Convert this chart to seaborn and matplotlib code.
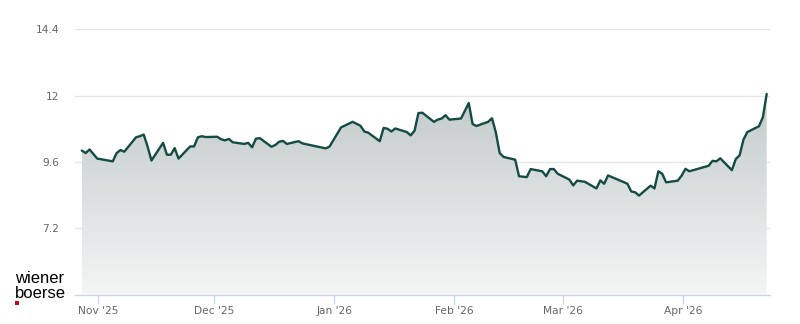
import numpy as np
import pandas as pd
import matplotlib
matplotlib.use("Agg")
import matplotlib.pyplot as plt
import matplotlib.dates as mdates
from matplotlib.colors import LinearSegmentedColormap
from matplotlib.patches import Rectangle
import seaborn as sns

# ---- data ----
dates = [
    "2025-10-27", "2025-10-28", "2025-10-29", "2025-10-31", "2025-11-04", "2025-11-05",
    "2025-11-06", "2025-11-07", "2025-11-10", "2025-11-11", "2025-11-12", "2025-11-13",
    "2025-11-14", "2025-11-17", "2025-11-18", "2025-11-19", "2025-11-20", "2025-11-21",
    "2025-11-24", "2025-11-25", "2025-11-26", "2025-11-27", "2025-11-28", "2025-12-01",
    "2025-12-02", "2025-12-03", "2025-12-04", "2025-12-05", "2025-12-08", "2025-12-09",
    "2025-12-10", "2025-12-11", "2025-12-12", "2025-12-15", "2025-12-16", "2025-12-17",
    "2025-12-18", "2025-12-19", "2025-12-22", "2025-12-23", "2025-12-29", "2025-12-30",
    "2026-01-02", "2026-01-05", "2026-01-07", "2026-01-08", "2026-01-09", "2026-01-12",
    "2026-01-13", "2026-01-14", "2026-01-15", "2026-01-16", "2026-01-19", "2026-01-20",
    "2026-01-21", "2026-01-22", "2026-01-23", "2026-01-26", "2026-01-27", "2026-01-28",
    "2026-01-29", "2026-01-30", "2026-02-02", "2026-02-04", "2026-02-05", "2026-02-06",
    "2026-02-09", "2026-02-10", "2026-02-11", "2026-02-12", "2026-02-13", "2026-02-16",
    "2026-02-17", "2026-02-19", "2026-02-20", "2026-02-23", "2026-02-24", "2026-02-25",
    "2026-02-26", "2026-02-27", "2026-03-02", "2026-03-03", "2026-03-04", "2026-03-06",
    "2026-03-09", "2026-03-10", "2026-03-11", "2026-03-12", "2026-03-17", "2026-03-18",
    "2026-03-19", "2026-03-20", "2026-03-23", "2026-03-24", "2026-03-25", "2026-03-26",
    "2026-03-27", "2026-03-30", "2026-03-31", "2026-04-01", "2026-04-02", "2026-04-07",
    "2026-04-08", "2026-04-09", "2026-04-10", "2026-04-13", "2026-04-14", "2026-04-15",
    "2026-04-16", "2026-04-17", "2026-04-20", "2026-04-21", "2026-04-22",
]
prices = [
    10.01, 9.92, 10.05, 9.72, 9.62, 9.92,
    10.03, 9.97, 10.49, 10.53, 10.59, 10.16,
    9.65, 10.29, 9.86, 9.86, 10.10, 9.72,
    10.16, 10.16, 10.49, 10.53, 10.50, 10.51,
    10.42, 10.38, 10.43, 10.31, 10.25, 10.29,
    10.13, 10.44, 10.46, 10.15, 10.21, 10.33,
    10.36, 10.25, 10.35, 10.27, 10.09, 10.15,
    10.85, 11.05, 10.91, 10.70, 10.66, 10.35,
    10.83, 10.80, 10.70, 10.81, 10.68, 10.56,
    10.73, 11.37, 11.38, 11.05, 11.13, 11.17,
    11.29, 11.13, 11.17, 11.73, 10.97, 10.90,
    11.05, 11.18, 10.67, 9.92, 9.78, 9.68,
    9.08, 9.05, 9.34, 9.26, 9.08, 9.34,
    9.34, 9.17, 8.96, 8.75, 8.92, 8.88,
    8.64, 8.93, 8.81, 9.11, 8.81, 8.53,
    8.50, 8.38, 8.74, 8.64, 9.26, 9.17,
    8.86, 8.92, 9.10, 9.35, 9.26, 9.46,
    9.64, 9.62, 9.73, 9.30, 9.70, 9.84,
    10.41, 10.68, 10.89, 11.21, 12.06,
]
y_ticks = [7.2, 9.6, 12, 14.4]
y_tick_labels = ["7.2", "9.6", "12", "14.4"]
month_ticks = ["2025-11-01", "2025-12-01", "2026-01-01", "2026-02-01", "2026-03-01", "2026-04-01"]
month_labels = ["Nov '25", "Dec '25", "Jan '26", "Feb '26", "Mar '26", "Apr '26"]

LINE = "#154b45"
TXT = "#666666"
AXC = "#ccd6eb"

sns.set_theme(style="white")
plt.rcParams["font.family"] = ["DejaVu Sans"]

fig = plt.figure(figsize=(8, 3.24), dpi=100)
ax = fig.add_axes([75 / 800, 1 - 294.5 / 324, 695 / 800, (294.5 - 29.3) / 324])

df = pd.DataFrame({"date": pd.to_datetime(dates) + pd.Timedelta(hours=17), "price": prices})

ymin, ymax = 4.8, 14.4
xlim = (pd.Timestamp("2025-10-25 22:50"), pd.Timestamp("2026-04-23 13:30"))

sns.lineplot(data=df, x="date", y="price", ax=ax, color=LINE, lw=1.7, zorder=3,
             solid_joinstyle="round")

# gradient area fill under the line
poly = ax.fill_between(df["date"], df["price"], ymin, color="none", lw=0)
xn = mdates.date2num(df["date"])
cmap = LinearSegmentedColormap.from_list("g", ["#f4f5f5", "#c2cbca"])
grad = np.linspace(0, 1, 256).reshape(-1, 1)
im = ax.imshow(grad, extent=[xn.min(), xn.max(), ymin, max(prices)], origin="lower",
               aspect="auto", cmap=cmap, zorder=1)
im.set_clip_path(poly.get_paths()[0], transform=ax.transData)

ax.set_xlim(*xlim)
ax.set_ylim(ymin, ymax)

ax.set_yticks(y_ticks)
ax.set_yticklabels(y_tick_labels)
ax.set_xticks(pd.to_datetime(month_ticks))
ax.set_xticklabels(month_labels)
ax.set_xlabel("")
ax.set_ylabel("")

ax.yaxis.grid(True, color="#e6e6e6", lw=1, zorder=0)
ax.xaxis.grid(False)
ax.set_axisbelow(True)

for s in ["top", "right", "left"]:
    ax.spines[s].set_visible(False)
ax.spines["bottom"].set_color(AXC)
ax.spines["bottom"].set_linewidth(1)

ax.tick_params(axis="y", length=0, pad=11.5, labelsize=7.7, labelcolor=TXT)
ax.tick_params(axis="x", direction="out", length=6.5, width=1, color=AXC,
               pad=1.5, labelsize=7.7, labelcolor=TXT, bottom=True)

# logo
fig.text(15 / 800, 1 - 283 / 324, "wiener", family="Liberation Sans", fontsize=12,
         color="black", va="baseline", ha="left")
fig.text(15 / 800, 1 - 298 / 324, "boerse", family="Liberation Sans", fontsize=12,
         color="black", va="baseline", ha="left")
fig.patches.append(Rectangle((15 / 800, 1 - 305 / 324), 4 / 800, 4 / 324,
                             transform=fig.transFigure, color="#d0021b", lw=0))

fig.savefig("out.png", dpi=100)
